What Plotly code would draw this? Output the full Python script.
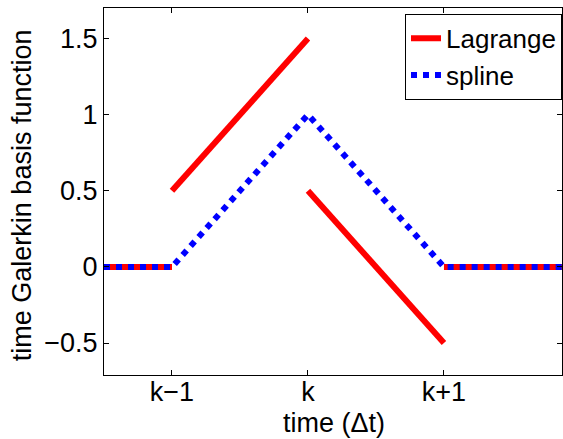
import plotly.graph_objects as go

# Data
lag_x1 = [0.5, 1.0]
lag_y1 = [0.0, 0.0]
lag_x2 = [1.0, 2.0]
lag_y2 = [0.5, 1.5]
lag_x3 = [2.0, 3.0]
lag_y3 = [0.5, -0.5]
lag_x4 = [3.0, 3.88]
lag_y4 = [0.0, 0.0]

spl_x = [0.5, 1.0, 2.0, 3.0, 3.88]
spl_y = [0.0, 0.0, 1.0, 0.0, 0.0]

tick_vals = [1, 2, 3]
tick_text = ["k\u22121", "k", "k+1"]
y_ticks = [-0.5, 0, 0.5, 1, 1.5]
y_text = ["\u22120.5", "0", "0.5", "1", "1.5"]

x_title = "time (\u0394t)"
y_title = "time Galerkin basis function"

red = "#ff0000"
blue = "#0000ff"
fig = go.Figure()
segs = [(lag_x1, lag_y1), (lag_x2, lag_y2), (lag_x3, lag_y3), (lag_x4, lag_y4)]
for i, (sx, sy) in enumerate(segs):
    fig.add_trace(go.Scatter(x=sx, y=sy, mode="lines", name="Lagrange",
                             line=dict(color=red, width=6),
                             showlegend=(i == 0)))
fig.add_trace(go.Scatter(x=spl_x, y=spl_y, mode="lines", name="spline",
                         line=dict(color=blue, width=6, dash="6px,6px")))

FS = 27
axis_common = dict(showline=True, linecolor="black", linewidth=1, mirror="ticks",
                   ticks="inside", ticklen=5, tickcolor="black", showgrid=False,
                   zeroline=False, automargin=False,
                   tickfont=dict(size=FS, color="black"))
fig.update_layout(
    width=563, height=439,
    margin=dict(l=104, r=1, t=8, b=64),
    paper_bgcolor="white", plot_bgcolor="white",
    font=dict(family="Liberation Sans, Arial, sans-serif", size=FS, color="black"),
    xaxis=dict(range=[0.5, 3.868], tickvals=tick_vals, ticktext=tick_text,
               ticklabelstandoff=-7, **axis_common),
    yaxis=dict(range=[-0.71, 1.7], tickvals=y_ticks, ticktext=y_text,
               **axis_common),
    legend=dict(x=1, y=0.984, xanchor="right", yanchor="top",
                bordercolor="black", borderwidth=1, bgcolor="white",
                font=dict(size=26), tracegroupgap=0, itemwidth=30),
    showlegend=True,
    annotations=[
        dict(text=x_title, xref="paper", yref="paper", x=0.502, y=-0.131,
             xanchor="center", yanchor="middle", showarrow=False,
             font=dict(size=FS)),
        dict(text=y_title, xref="paper", yref="paper", x=-0.179, y=0.49,
             xanchor="center", yanchor="middle", showarrow=False, textangle=-90,
             font=dict(size=FS)),
    ],
)
fig.write_html("out.html", config={"displayModeBar": False},
               post_script="document.body.style.margin='0';document.body.style.overflow='hidden';")
